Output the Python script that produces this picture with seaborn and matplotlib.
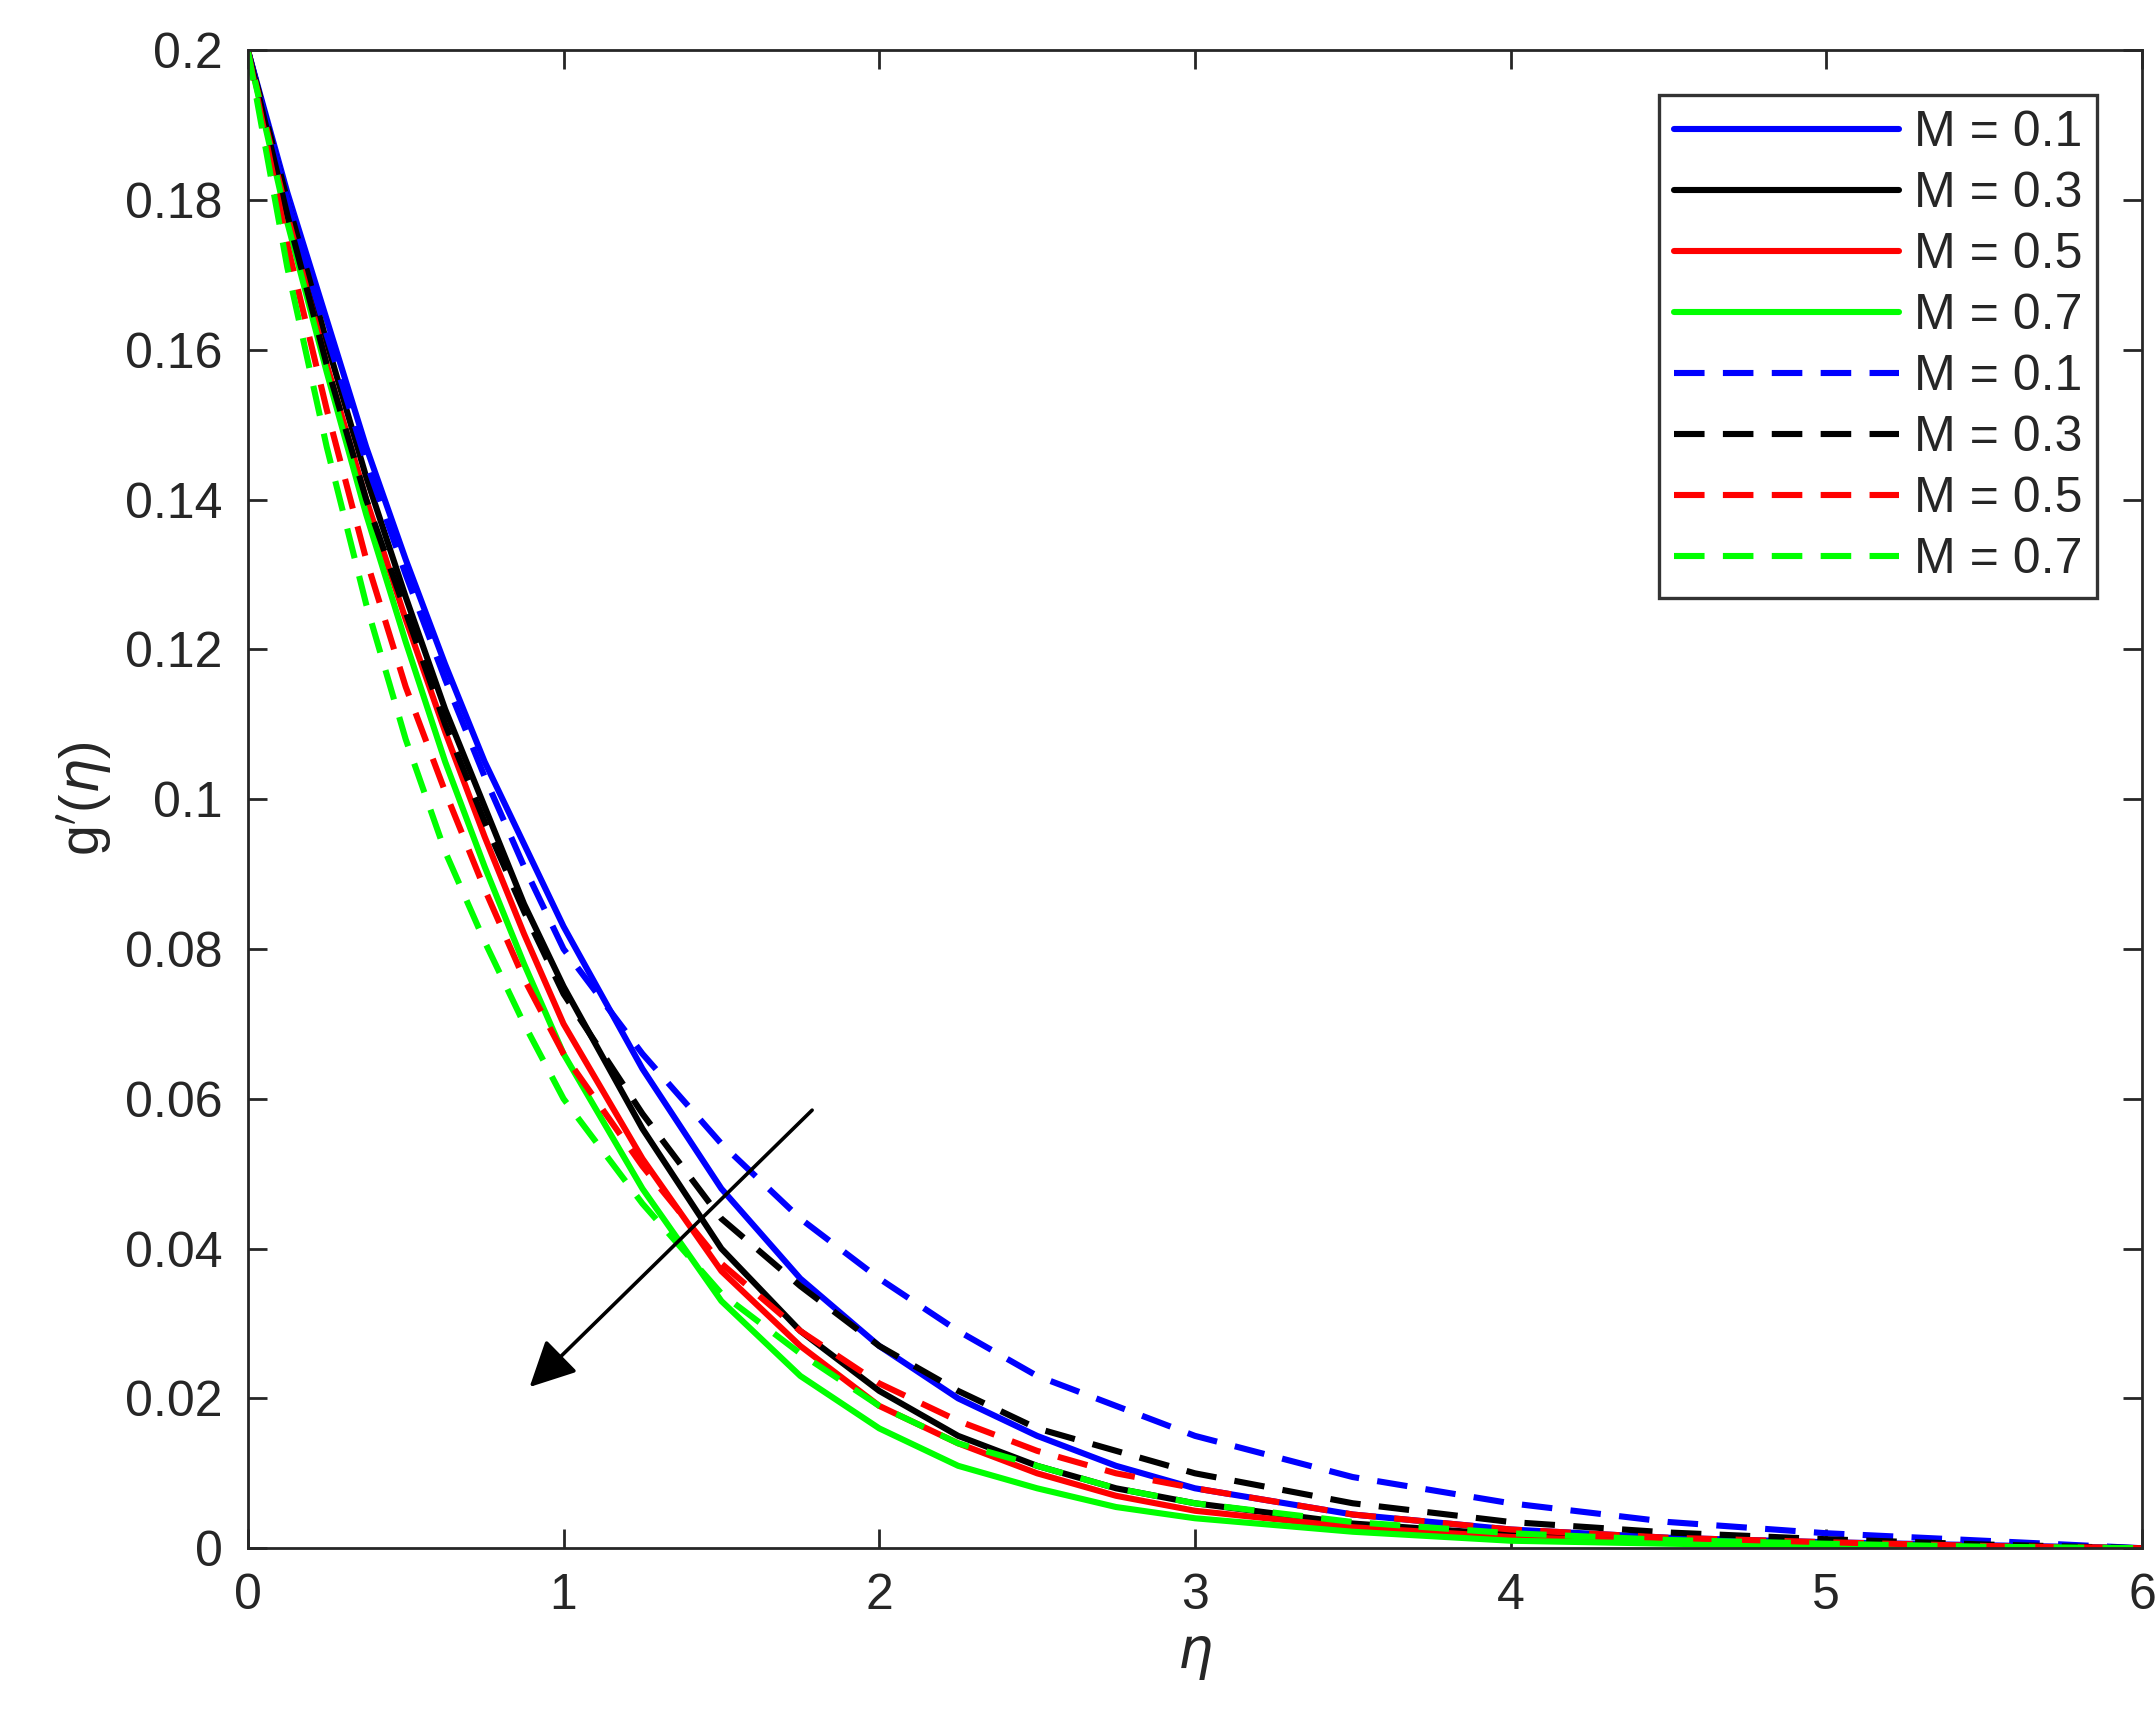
import matplotlib
matplotlib.use("Agg")
import matplotlib.pyplot as plt
import seaborn as sns
import numpy as np

sns.set_theme(style="white")
plt.rcParams['font.family'] = ['Liberation Sans', 'DejaVu Sans']

eta = [0, 0.125, 0.25, 0.375, 0.5, 0.625, 0.75, 0.875, 1, 1.25, 1.5, 1.75, 2, 2.25, 2.5, 2.75, 3, 3.5, 4, 4.5, 5, 5.5, 6]
blue_s  = [0.2, 0.181, 0.164, 0.147, 0.132, 0.118, 0.105, 0.094, 0.083, 0.064, 0.048, 0.036, 0.027, 0.020, 0.015, 0.011, 0.008, 0.0045, 0.0025, 0.0014, 0.0008, 0.0004, 0.0]
black_s = [0.2, 0.180, 0.161, 0.143, 0.127, 0.112, 0.099, 0.086, 0.075, 0.056, 0.040, 0.029, 0.021, 0.015, 0.011, 0.008, 0.006, 0.0033, 0.0018, 0.0010, 0.0005, 0.0002, 0.0]
red_s   = [0.2, 0.178, 0.158, 0.140, 0.124, 0.109, 0.095, 0.082, 0.070, 0.052, 0.037, 0.027, 0.019, 0.014, 0.010, 0.007, 0.005, 0.0028, 0.0015, 0.0008, 0.0004, 0.0002, 0.0]
green_s = [0.2, 0.177, 0.157, 0.138, 0.121, 0.105, 0.091, 0.078, 0.066, 0.048, 0.033, 0.023, 0.016, 0.011, 0.008, 0.0055, 0.004, 0.0022, 0.0010, 0.0006, 0.0003, 0.0001, 0.0]
blue_d  = [0.2, 0.180, 0.162, 0.145, 0.130, 0.116, 0.103, 0.091, 0.080, 0.066, 0.054, 0.044, 0.036, 0.029, 0.023, 0.019, 0.015, 0.0095, 0.006, 0.0035, 0.002, 0.001, 0.0]
black_d = [0.2, 0.178, 0.158, 0.140, 0.125, 0.110, 0.097, 0.085, 0.074, 0.058, 0.044, 0.035, 0.027, 0.021, 0.016, 0.013, 0.010, 0.0060, 0.0035, 0.0021, 0.0012, 0.0005, 0.0]
red_d   = [0.2, 0.174, 0.152, 0.132, 0.115, 0.101, 0.088, 0.076, 0.066, 0.051, 0.038, 0.029, 0.022, 0.017, 0.013, 0.010, 0.008, 0.0045, 0.0025, 0.0014, 0.0008, 0.0003, 0.0]
green_d = [0.2, 0.171, 0.147, 0.126, 0.108, 0.093, 0.081, 0.070, 0.060, 0.046, 0.034, 0.026, 0.019, 0.014, 0.011, 0.008, 0.006, 0.0035, 0.0020, 0.0011, 0.0006, 0.0002, 0.0]

series = [
    (blue_s, '#0000ff', '-'), (black_s, '#000000', '-'), (red_s, '#ff0000', '-'), (green_s, '#00ff00', '-'),
    (blue_d, '#0000ff', '--'), (black_d, '#000000', '--'), (red_d, '#ff0000', '--'), (green_d, '#00ff00', '--'),
]
labels = ['M = 0.1', 'M = 0.3', 'M = 0.5', 'M = 0.7'] * 2

fig = plt.figure(figsize=(10.775, 8.63), dpi=200)
ax = fig.add_axes([0.115, 0.103, 0.879, 0.868])
for (vals, c, ls), lab in zip(series, labels):
    sns.lineplot(x=eta, y=vals, ax=ax, color=c, linewidth=2.2, label=lab)
    ax.lines[-1].set_linestyle(ls)
    if ls == '--':
        ax.lines[-1].set_dashes((5, 3))

ax.set_xlim(0, 6)
ax.set_ylim(0, 0.2)
ax.set_xticks(range(7))
ax.set_yticks(np.arange(0, 0.201, 0.02))
ax.set_yticklabels(['0', '0.02', '0.04', '0.06', '0.08', '0.1', '0.12', '0.14', '0.16', '0.18', '0.2'])
ax.tick_params(direction='in', length=7, width=1, labelsize=18, top=True, right=True,
               bottom=True, left=True, colors='#262626', pad=9)
for s in ax.spines.values():
    s.set_color('#262626'); s.set_linewidth(1)
ax.set_xlabel(r'$\eta$', fontsize=20)
ax.set_ylabel(r"g$'$($\eta$)", fontsize=20)
ax.annotate('', xy=(0.88, 0.021), xytext=(1.8, 0.059),
            arrowprops=dict(arrowstyle='-|>', color='black', lw=1.3, mutation_scale=35))
leg = ax.legend(loc='upper right', fontsize=18, frameon=True, fancybox=False,
                edgecolor='black', handlelength=4.5, borderaxespad=0.9, labelspacing=0.3,
                handletextpad=0.3, borderpad=0.3)
leg.get_frame().set_linewidth(1.2)
for h, (_, c, ls) in zip(leg.get_lines(), series):
    h.set_linestyle(ls)
    if ls == '--':
        h.set_dashes((5, 3))
fig.savefig('out.png', dpi=200)
